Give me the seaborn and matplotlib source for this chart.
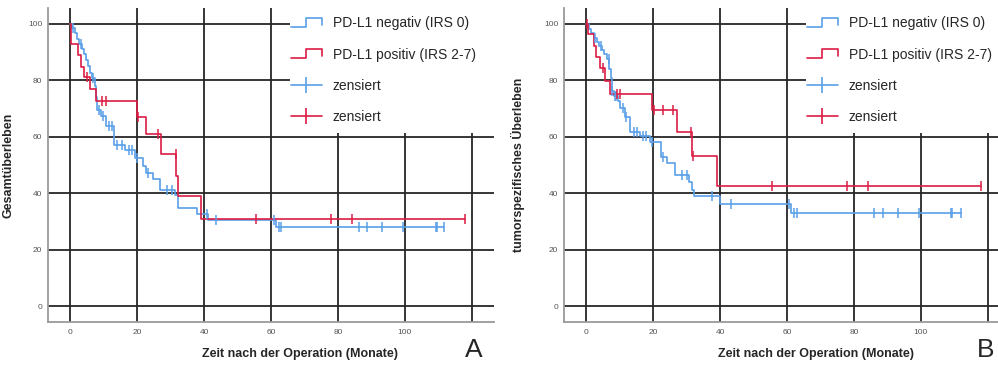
import numpy as np
import pandas as pd
import matplotlib
matplotlib.use("Agg")
import matplotlib.pyplot as plt
import seaborn as sns
from matplotlib.lines import Line2D
from matplotlib.patches import Rectangle
from matplotlib.legend_handler import HandlerBase

# DATEN
# Panel A : Gesamtüberleben
a_neg_t = [0, 0.6, 1.5, 2.2, 2.8, 3.6, 4.2, 4.7, 5.3, 6.0, 6.5, 7.3, 7.7, 8.0, 9.3, 10.7,
           13.1, 16.4, 19.3, 21.9, 22.8, 24.8, 26.9, 31.3, 32.3, 38.0, 41.3, 61.5, 111.8]
a_neg_s = [100, 98.4, 96.8, 94.4, 92.7, 90.9, 89.1, 87.0, 85.0, 82.5, 80.6, 78.0, 74.0, 69.5, 67.3, 63.8,
           56.9, 55.3, 52.3, 49.6, 47.2, 45.0, 41.3, 39.4, 34.9, 32.7, 30.5, 28.1, 28.1]
a_neg_cens = [1.0, 3.4, 6.9, 8.5, 9.9, 11.6, 12.4, 14.1, 15.4, 17.7, 18.4, 20.0, 23.4, 28.8, 30.5,
              41.0, 43.5, 60.9, 62.4, 63.1, 86.3, 88.8, 93.2, 99.5, 109.2, 109.6, 111.8]

a_pos_t = [0, 0.3, 2.5, 3.2, 4.3, 5.9, 7.7, 20.0, 22.8, 27.2, 31.6, 32.1, 39.2, 117.8]
a_pos_s = [100, 92.6, 88.8, 84.6, 81.2, 76.7, 72.6, 67.0, 60.8, 54.0, 46.2, 38.9, 31.0, 31.0]
a_pos_cens = [5.1, 9.6, 10.6, 20.4, 26.2, 31.5, 55.6, 77.8, 84.2, 117.8]

# Panel B : tumorspezifisches Überleben
b_neg_t = [0, 0.8, 1.6, 2.4, 3.2, 4.0, 4.8, 5.4, 6.2, 6.9, 7.4, 7.6, 8.4, 9.6, 10.2, 11.7, 13.2,
           16.2, 19.0, 22.3, 24.3, 26.6, 30.8, 31.7, 32.2, 40.0, 61.2, 111.9]
b_neg_s = [100, 98.2, 96.8, 95.0, 93.5, 92.0, 90.5, 89.1, 87.5, 84.0, 80.9, 76.1, 74.4, 72.8, 70.2, 67.0, 61.5,
           60.2, 58.3, 53.0, 50.6, 46.3, 44.0, 41.3, 38.9, 36.2, 33.2, 33.2]
b_neg_cens = [2.7, 4.4, 6.7, 7.6, 8.7, 9.0, 11.0, 12.0, 14.2, 15.2, 17.0, 17.8, 19.7, 23.1, 28.5, 30.0,
              37.7, 43.2, 60.7, 62.2, 62.9, 86.1, 88.6, 93.1, 99.3, 108.9, 109.3, 111.9]

b_pos_t = [0, 0.5, 2.4, 3.0, 4.2, 5.7, 7.2, 19.7, 27.2, 31.7, 39.0, 118.0]
b_pos_s = [100, 96.2, 92.1, 88.3, 84.4, 79.7, 75.2, 69.6, 61.6, 53.1, 42.4, 42.4]
b_pos_cens = [0.3, 5.0, 9.2, 10.2, 20.2, 22.9, 25.9, 31.4, 32.0, 55.5, 77.8, 84.3, 118.0]

x_ticks = [0, 20, 40, 60, 80, 100, 120]
x_ticklabels = ['0', '20', '40', '60', '80', '100', '']
y_ticks = [0, 20, 40, 60, 80, 100]

labels = ['PD-L1 negativ (IRS 0)', 'PD-L1 positiv (IRS 2-7)', 'zensiert', 'zensiert']
BLUE = '#5a9fe8'
RED = '#dc1c44'


def survAt(t_ev, s_ev, t):
    '''valeur de la courbe en escalier au temps t'''
    idx = np.searchsorted(np.array(t_ev), np.array(t), side='right') - 1
    return np.array(s_ev)[idx]


class StepHandler(HandlerBase):
    '''petite icone en escalier pour la legende'''
    def create_artists(self, legend, orig, xd, yd, width, height, fontsize, trans):
        x0 = -xd
        lo = -yd + height * 0.05
        hi = -yd + height * 0.95
        xs = [x0, x0 + width * 0.5, x0 + width * 0.5, x0 + width, x0 + width]
        ys = [lo, lo, hi, hi, lo + height * 0.2]
        ln = Line2D(xs, ys, color=orig.get_color(), lw=orig.get_linewidth(), transform=trans)
        return [ln]


sns.set_style('white')
plt.rcParams['font.family'] = ['Liberation Sans', 'DejaVu Sans']

fig = plt.figure(figsize=(9.98, 3.67), dpi=100)
W, H = 998, 367
axA = fig.add_axes([48 / W, 1 - 322 / H, 446 / W, 314 / H])
axB = fig.add_axes([564 / W, 1 - 322 / H, 446 / W, 314 / H])

panels = [
    (axA, a_neg_t, a_neg_s, a_neg_cens, a_pos_t, a_pos_s, a_pos_cens, 'Gesamtüberleben', -0.074, 'A', 474),
    (axB, b_neg_t, b_neg_s, b_neg_cens, b_pos_t, b_pos_s, b_pos_cens, 'tumorspezifisches Überleben', -0.087, 'B', 986),
]

for ax, nt, ns, nc, pt, ps, pc, ylab, ylx, letter, lx in panels:
    for t_ev, s_ev, cens, col in [(nt, ns, nc, BLUE), (pt, ps, pc, RED)]:
        curve = pd.DataFrame({'t': t_ev, 's': s_ev})
        sns.lineplot(data=curve, x='t', y='s', ax=ax, color=col, lw=1.2,
                     drawstyle='steps-post', estimator=None, sort=False, legend=False, zorder=3)
        cdf = pd.DataFrame({'t': cens, 's': survAt(t_ev, s_ev, cens)})
        sns.lineplot(data=cdf, x='t', y='s', ax=ax, color=col, linestyle='none', marker='|',
                     markersize=6.5, markeredgewidth=1.1, markeredgecolor=col,
                     estimator=None, sort=False, legend=False, zorder=4)

    ax.set_xlim(-6.6, 126.6)
    ax.set_ylim(-5.5, 105.5)
    ax.set_xticks(x_ticks)
    ax.set_xticklabels(x_ticklabels)
    ax.set_yticks(y_ticks)
    ax.tick_params(length=0, labelsize=6, labelcolor='#555555')
    ax.tick_params(axis='y', pad=4)
    ax.tick_params(axis='x', pad=5)
    ax.set_axisbelow(True)
    ax.grid(True, color='#262626', lw=1.3)
    for sp in ['top', 'right']:
        ax.spines[sp].set_visible(False)
    for sp in ['left', 'bottom']:
        ax.spines[sp].set_color('#9a9a9a')
        ax.spines[sp].set_linewidth(1.3)

    ax.set_xlabel('Zeit nach der Operation (Monate)', fontsize=9, fontweight='bold')
    ax.xaxis.set_label_coords(0.565, -0.083)
    ax.set_ylabel(ylab, fontsize=9, fontweight='bold')
    ax.yaxis.set_label_coords(ylx, 0.5)

    # zone blanche sous la legende
    ax.add_patch(Rectangle((0.543, 0.602), 0.6, 0.45, transform=ax.transAxes,
                           facecolor='white', edgecolor='none', zorder=1.5, clip_on=False))

    handles = [Line2D([], [], color=BLUE, lw=1.2), Line2D([], [], color=RED, lw=1.2),
               Line2D([], [], color=BLUE, lw=1.2, marker='|', markersize=12, mew=1.2),
               Line2D([], [], color=RED, lw=1.2, marker='|', markersize=12, mew=1.2)]
    ax.legend(handles, labels, loc='upper left', bbox_to_anchor=(0.545, 0.974), frameon=False,
              fontsize=10, handlelength=2.2, handletextpad=0.8, labelspacing=1.25,
              borderpad=0, borderaxespad=0,
              handler_map={handles[0]: StepHandler(), handles[1]: StepHandler()})

    fig.text(lx / W, 1 - 357 / H, letter, ha='center', va='baseline', fontsize=19)

fig.savefig('out.png', dpi=100)
